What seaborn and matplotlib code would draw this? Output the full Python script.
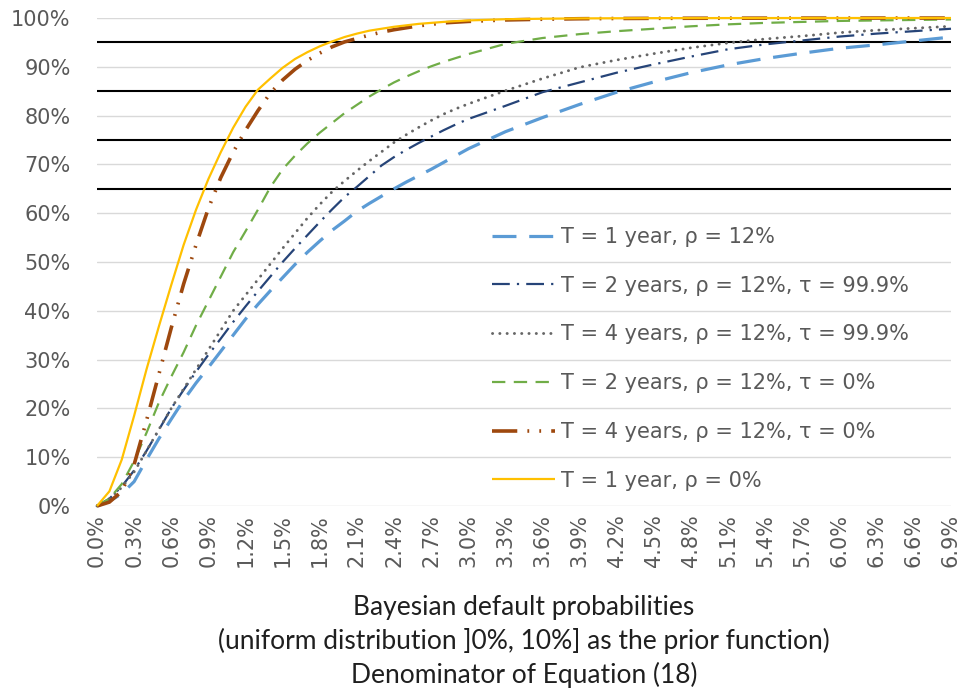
import numpy as np
import pandas as pd
import matplotlib
matplotlib.use("Agg")
import matplotlib.pyplot as plt
import seaborn as sns

# ---------------- data (values in %) ----------------
x_pct = [0.0, 0.1, 0.2, 0.3, 0.4, 0.5, 0.6, 0.7, 0.8, 0.9,
         1.0, 1.1, 1.2, 1.3, 1.4, 1.5, 1.6, 1.7, 1.8, 1.9,
         2.0, 2.1, 2.2, 2.3, 2.4, 2.5, 2.6, 2.7, 2.8, 2.9,
         3.0, 3.3, 3.6, 3.9, 4.2, 4.5, 4.8, 5.1, 5.4, 5.7,
         6.0, 6.3, 6.6, 6.9]

t1_rho12 = [0, 1.0, 2.5, 5.0, 9.5, 13.8, 17.8, 21.7, 25.2, 28.4,
            31.7, 35.0, 38.3, 41.3, 44.1, 46.8, 49.5, 52.0, 54.3, 56.5,
            58.4, 60.4, 62.0, 63.5, 65.0, 66.4, 67.7, 69.0, 70.4, 71.8,
            73.2, 76.7, 79.6, 82.3, 84.8, 86.9, 88.8, 90.4, 91.7, 92.8,
            93.8, 94.5, 95.3, 96.1]

t2_rho12_tau999 = [0, 1.5, 4.0, 7.3, 11.3, 15.6, 20.0, 23.8, 27.5, 31.0,
                   34.3, 37.7, 40.9, 44.0, 47.0, 50.0, 52.8, 55.5, 58.2, 60.8,
                   63.3, 65.4, 67.6, 69.8, 71.5, 73.0, 74.4, 75.7, 77.0, 78.2,
                   79.3, 82.0, 84.8, 86.8, 88.8, 90.5, 92.1, 93.6, 94.6, 95.4,
                   96.2, 96.8, 97.3, 97.8]

t4_rho12_tau999 = [0, 1.5, 3.8, 7.0, 11.3, 15.7, 20.0, 24.0, 28.0, 32.0,
                   36.0, 40.0, 43.2, 46.4, 49.6, 52.8, 55.9, 59.0, 61.8, 64.4,
                   66.6, 68.7, 70.7, 72.6, 74.5, 76.1, 77.6, 79.0, 80.3, 81.4,
                   82.4, 85.1, 87.6, 89.9, 91.4, 92.7, 93.9, 94.9, 95.7, 96.3,
                   97.0, 97.5, 97.9, 98.3]

t2_rho12_tau0 = [0, 1.5, 4.5, 9.2, 15.0, 21.2, 26.5, 31.5, 37.0, 42.0,
                 47.0, 52.0, 56.3, 60.7, 65.3, 69.0, 71.8, 74.3, 76.5, 78.5,
                 80.5, 82.2, 83.9, 85.4, 86.8, 88.0, 89.1, 90.1, 91.0, 91.8,
                 92.6, 94.7, 95.9, 96.7, 97.3, 97.8, 98.3, 98.7, 99.0, 99.2,
                 99.4, 99.5, 99.6, 99.7]

t4_rho12_tau0 = [0, 0.8, 3.0, 8.5, 17.5, 27.0, 36.5, 45.5, 53.5, 61.0,
                 67.3, 72.5, 77.0, 81.0, 84.6, 87.3, 89.5, 91.3, 92.8, 94.1,
                 95.1, 95.8, 96.5, 97.1, 97.6, 98.0, 98.4, 98.7, 99.0, 99.15,
                 99.3, 99.6, 99.75, 99.85, 99.9, 99.93, 99.95, 99.96, 99.97, 99.98,
                 99.98, 99.99, 99.99, 99.99]

t1_rho0 = [0, 3.0, 9.5, 18.5, 28.0, 36.8, 45.3, 53.5, 60.7, 67.0,
           72.5, 77.5, 81.8, 85.3, 87.6, 89.8, 91.6, 93.0, 94.2, 95.2,
           96.1, 96.8, 97.4, 97.8, 98.2, 98.5, 98.8, 99.0, 99.2, 99.35,
           99.5, 99.75, 99.85, 99.92, 99.95, 99.97, 99.98, 99.99, 99.99, 100,
           100, 100, 100, 100]

series_labels = ["T = 1 year, ρ = 12%",
                 "T = 2 years, ρ = 12%, τ = 99.9%",
                 "T = 4 years, ρ = 12%, τ = 99.9%",
                 "T = 2 years, ρ = 12%, τ = 0%",
                 "T = 4 years, ρ = 12%, τ = 0%",
                 "T = 1 year, ρ = 0%"]
series_values = [t1_rho12, t2_rho12_tau999, t4_rho12_tau999,
                 t2_rho12_tau0, t4_rho12_tau0, t1_rho0]

threshold_levels = [65, 75, 85, 95]
y_ticks = [0, 10, 20, 30, 40, 50, 60, 70, 80, 90, 100]
x_ticks = [0.0, 0.3, 0.6, 0.9, 1.2, 1.5, 1.8, 2.1, 2.4, 2.7, 3.0, 3.3,
           3.6, 3.9, 4.2, 4.5, 4.8, 5.1, 5.4, 5.7, 6.0, 6.3, 6.6, 6.9]
x_title = ("Bayesian default probabilities\n"
           "(uniform distribution ]0%, 10%] as the prior function)\n"
           "Denominator of Equation (18)")

# ---------------- styles ----------------
styles = [
    dict(color="#5B9BD5", lw=2.3, ls=(0, (7.5, 4.0)), cap="butt"),
    dict(color="#264478", lw=1.6, ls=(0, (8.0, 3.2, 1.0, 3.2)), cap="butt"),
    dict(color="#666666", lw=2.1, ls=(0, (0.05, 2.45)), cap="round"),
    dict(color="#70AD47", lw=1.6, ls=(0, (6.0, 3.8)), cap="butt"),
    dict(color="#9E480E", lw=2.6, ls=(0, (7.0, 2.8, 0.5, 2.8, 0.5, 2.8)), cap="butt"),
    dict(color="#FFC000", lw=1.6, ls="-", cap="butt"),
]

sns.set_theme(style="white")
plt.rcParams["font.family"] = ["DejaVu Sans"]

fig = plt.figure(figsize=(9.6, 6.9), dpi=100)
ax = fig.add_axes([97 / 960, 1 - 506 / 690, 854 / 960, (506 - 18) / 690])

df = pd.DataFrame({"x": x_pct})
for lab, vals in zip(series_labels, series_values):
    df[lab] = np.array(vals) / 100.0

# grid & threshold lines
for yt in y_ticks:
    ax.axhline(yt / 100, color="#D9D9D9", lw=1.0, zorder=0)
for lv in threshold_levels:
    ax.axhline(lv / 100, color="black", lw=1.5, zorder=1)

handles = []
for lab, st in zip(series_labels, styles):
    sns.lineplot(data=df, x="x", y=lab, ax=ax, color=st["color"],
                 linewidth=st["lw"], linestyle=st["ls"], estimator=None,
                 sort=False, legend=False)
    ln = ax.lines[-1]
    ln.set_dash_capstyle(st["cap"])
    ln.set_solid_capstyle("butt")
    ln.set_clip_on(False)
    ln.set_zorder(3)
    handles.append(ln)

ax.set_xlim(0, 6.9)
ax.set_ylim(0, 1.0)
for s in ax.spines.values():
    s.set_visible(False)

ax.set_yticks([v / 100 for v in y_ticks])
ax.set_yticklabels([f"{v}%" for v in y_ticks])
ax.set_xticks(x_ticks)
ax.set_xticklabels([f"{v:.1f}%" for v in x_ticks], rotation=90)
ax.tick_params(axis="y", length=0, pad=19, labelsize=15, labelcolor="#595959")
ax.tick_params(axis="x", length=0, pad=6, labelsize=15, labelcolor="#595959")
ax.set_ylabel("")
ax.set_xlabel(x_title, fontsize=19, color="#1F1F1F", linespacing=1.37,
              labelpad=20, family=["Lato", "DejaVu Sans"])

leg = ax.legend(handles, series_labels, loc="upper left",
                bbox_to_anchor=(492 / 960, 1 - 227 / 690),
                bbox_transform=fig.transFigure, frameon=False,
                fontsize=15, handlelength=3.0, handletextpad=0.3,
                labelspacing=1.38, borderpad=0, borderaxespad=0)
for t in leg.get_texts():
    t.set_color("#595959")

fig.savefig("out.png", dpi=100)
